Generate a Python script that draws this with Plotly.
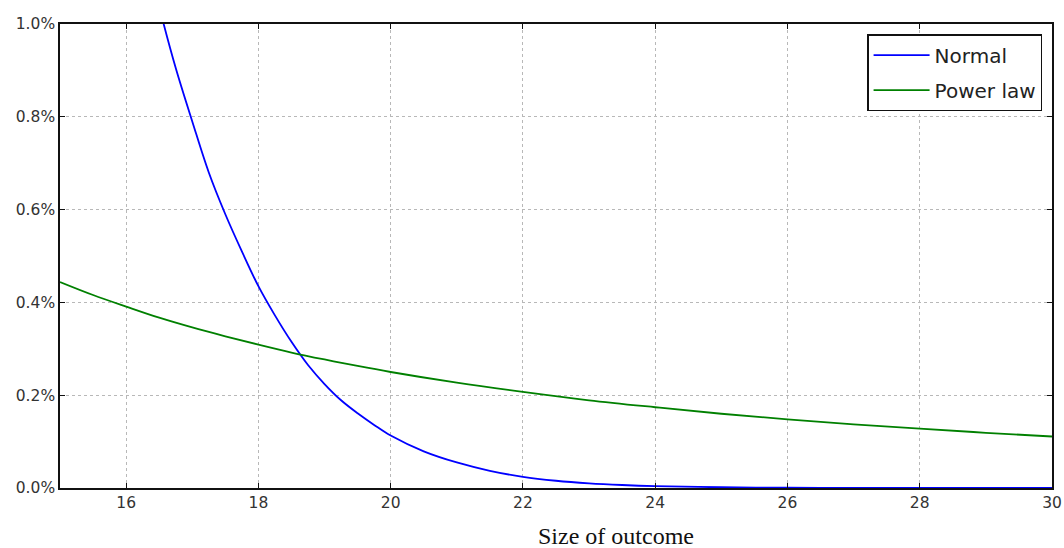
import plotly.graph_objects as go

# Normal curve (percent)
normal_x = [16.4, 16.5, 16.75, 17.0, 17.25, 17.5, 17.75, 18.0, 18.25, 18.5, 18.75,
            19.0, 19.25, 19.5, 19.75, 20.0, 20.5, 21.0, 21.5, 22.0, 22.5, 23.0,
            23.5, 24.0, 25.0, 26.0, 27.0, 28.0, 29.0, 30.0]
normal_y = [1.095, 1.037, 0.905, 0.79, 0.68, 0.59, 0.51, 0.435, 0.372, 0.315, 0.265,
            0.224, 0.189, 0.161, 0.136, 0.113, 0.079, 0.055, 0.037, 0.024, 0.0156, 0.0101,
            0.0065, 0.0041, 0.0016, 0.0006, 0.0002, 0.0001, 0.00003, 0.00001]

# Power law curve (percent)
power_x = [15, 15.5, 16, 16.5, 17, 17.5, 18, 18.5, 19, 19.5, 20, 21, 22, 23, 24,
           25, 26, 27, 28, 29, 30]
power_y = [0.444, 0.416, 0.391, 0.367, 0.346, 0.327, 0.309, 0.292, 0.277, 0.263, 0.25,
           0.227, 0.207, 0.189, 0.174, 0.16, 0.148, 0.137, 0.128, 0.119, 0.111]

x_ticks = [16, 18, 20, 22, 24, 26, 28, 30]
y_ticks = [0.0, 0.2, 0.4, 0.6, 0.8, 1.0]
y_tick_labels = ["0.0%", "0.2%", "0.4%", "0.6%", "0.8%", "1.0%"]

fig = go.Figure()
fig.add_trace(go.Scatter(x=normal_x, y=normal_y, mode="lines", name="Normal",
                         legendgroup="a",
                         line=dict(color="#0000ff", width=1.8, shape="spline")))
fig.add_trace(go.Scatter(x=power_x, y=power_y, mode="lines", name="Power law",
                         legendgroup="b",
                         line=dict(color="#008000", width=1.8, shape="spline")))

axis_common = dict(
    showline=True, linecolor="#111111", linewidth=1.5, mirror="ticks",
    ticks="inside", ticklen=5, tickcolor="#111111", tickwidth=1,
    showgrid=True, gridcolor="#b8b8b8", gridwidth=1, griddash="3px,3px",
    zeroline=False, automargin=False,
    tickfont=dict(family="DejaVu Sans", size=15.5, color="#333333"),
)

fig.update_layout(
    width=1064, height=548,
    margin=dict(l=60, r=12, t=24, b=60, autoexpand=False),
    paper_bgcolor="white", plot_bgcolor="white",
    showlegend=True,
    legend=dict(x=0.99, y=0.978, xanchor="right", yanchor="top",
                bordercolor="#111111", borderwidth=1.5, bgcolor="white",
                font=dict(family="DejaVu Sans", size=20, color="#222222"),
                itemwidth=56, tracegroupgap=6),
    xaxis=dict(range=[15, 30], tickvals=x_ticks, ticktext=[str(v) for v in x_ticks],
               **axis_common),
    yaxis=dict(range=[0, 1.0], tickvals=y_ticks, ticktext=y_tick_labels, **axis_common),
    annotations=[dict(text="Size of outcome", xref="paper", yref="paper",
                      x=0.5605, y=-0.104, xanchor="center", yanchor="middle",
                      showarrow=False,
                      font=dict(family="Liberation Serif", size=24, color="#111111"))],
)

fig.write_html("out.html", config={"displayModeBar": False},
               post_script="document.body.style.margin='0';document.body.style.overflow='hidden';")
